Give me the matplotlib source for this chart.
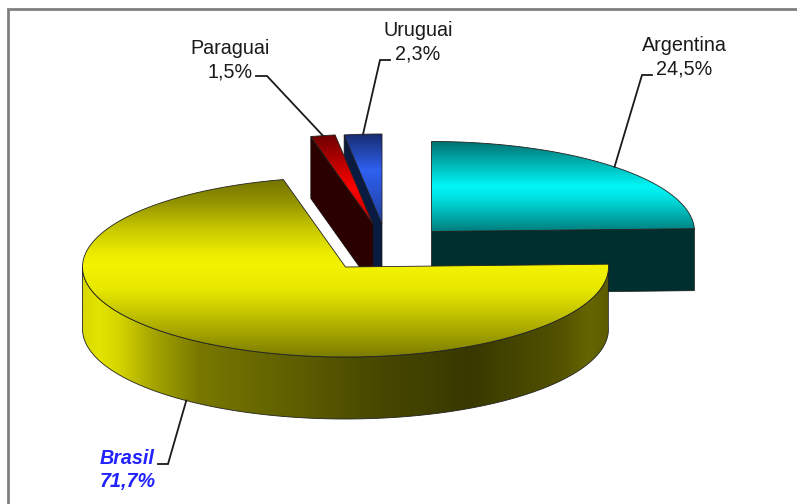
import numpy as np
import matplotlib
matplotlib.use("Agg")
import matplotlib.pyplot as plt
from matplotlib.colors import LinearSegmentedColormap, to_rgb
from matplotlib.patches import Polygon

# Share of each country, clockwise from twelve o'clock
countries = ["Argentina", "Brasil", "Paraguai", "Uruguai"]
shares = [24.5, 71.7, 1.5, 2.3]
share_labels = ["24,5%", "71,7%", "1,5%", "2,3%"]

# Projected pie geometry, in pixels
RX, RY, DEPTH = 263.0, 90.0, 62.0
CENTERS = {
    "Argentina": (431.5, 231.5),
    "Brasil": (345.5, 267),
    "Paraguai": (373, 224),
    "Uruguai": (382, 224),
}

plt.rcParams["font.family"] = ["Liberation Sans", "DejaVu Sans"]
fig = plt.figure(figsize=(7.97, 5.04), dpi=100, facecolor="white")
ax = fig.add_axes([0, 0, 1, 1])
ax.set_xlim(0, 797)
ax.set_ylim(504, 0)
ax.axis("off")

# Slice angles in degrees, running clockwise from the top
angles = {}
start = 90.0
for name, share in zip(countries, shares):
    sweep = share * 3.6
    angles[name] = (start, start - sweep)
    start -= sweep


def rim(center, t0, t1, dy=0.0, n=240):
    t = np.radians(np.linspace(t0, t1, n))
    return np.column_stack([center[0] + RX * np.cos(t),
                            center[1] + dy - RY * np.sin(t)])


def shaded(points, stops, axis, zorder):
    """Fill a polygon with a one-directional colour ramp, with a thin dark outline."""
    cmap = LinearSegmentedColormap.from_list("ramp", [(p, to_rgb(c)) for p, c in stops])
    outline = Polygon(points, closed=True, fc="none", ec="#222222", lw=0.6, zorder=zorder + 0.1)
    ax.add_patch(outline)
    x0, x1 = points[:, 0].min(), points[:, 0].max()
    y0, y1 = points[:, 1].min(), points[:, 1].max()
    ramp = np.linspace(0, 1, 512)
    ramp = ramp[None, :] if axis == "x" else ramp[:, None]
    image = ax.imshow(ramp, cmap=cmap, vmin=0, vmax=1, extent=(x0, x1, y1, y0),
                      aspect="auto", zorder=zorder, interpolation="bilinear")
    image.set_clip_path(Polygon(points, closed=True, transform=ax.transData))


def flat(points, color, zorder):
    ax.add_patch(Polygon(points, closed=True, fc=color, ec="#141414", lw=0.5, zorder=zorder))


def wedge(center, t0, t1):
    return np.vstack([center, rim(center, t0, t1)])


def cut_face(center, t):
    edge = rim(center, t, t, n=1)[0]
    cx, cy = center
    return np.array([edge, center, (cx, cy + DEPTH), (edge[0], edge[1] + DEPTH)])


# Argentina
c = CENTERS["Argentina"]
t0, t1 = angles["Argentina"]
flat(cut_face(c, t1), "#002f2f", 1)
shaded(wedge(c, t0, t1),
       [(0, "#006f6f"), (0.25, "#00b4b4"), (0.5, "#00f6f6"), (0.62, "#00e4e4"), (1, "#007f7f")], "y", 2)

# Uruguai
c = CENTERS["Uruguai"]
t0, t1 = angles["Uruguai"]
flat(cut_face(c, t0), "#0a1b42", 3)
shaded(wedge(c, t0, t1), [(0, "#182c70"), (0.4, "#2f60f0"), (1, "#1f3f9f")], "y", 4)

# Paraguai
c = CENTERS["Paraguai"]
t0, t1 = angles["Paraguai"]
flat(cut_face(c, t0), "#2b0000", 5)
shaded(wedge(c, t0, t1), [(0, "#6a0000"), (0.6, "#ff0000"), (1, "#b00000")], "y", 6)

# Brasil: side wall first, then the top
c = CENTERS["Brasil"]
t0, t1 = angles["Brasil"]
front = rim(c, -180, t0)
wall = np.vstack([front, front[::-1] + (0, DEPTH)])
shaded(wall,
       [(0, "#d8d800"), (0.03, "#e4e400"), (0.07, "#d4d400"), (0.135, "#a4a400"), (0.223, "#787800"),
        (0.547, "#4a4a00"), (0.737, "#383800"), (0.909, "#525200"), (0.966, "#666600"),
        (1, "#5c5c00")], "x", 7)
shaded(wedge(c, t0, t1),
       [(0, "#747400"), (0.13, "#949400"), (0.28, "#c8c800"), (0.42, "#ecec00"), (0.49, "#f2f200"),
        (0.62, "#e8e800"), (0.77, "#c0c000"), (1, "#7c7c00")], "y", 8)

# Leader lines start on the rim at each slice's middle angle
elbows = {
    "Argentina": [(642, 75), (652, 75)],
    "Brasil": [(168, 464), (158, 464)],
    "Paraguai": [(267, 76), (256, 76)],
    "Uruguai": [(380, 60), (390, 60)],
}
label_pos = {
    "Argentina": (684.5, 57),
    "Brasil": (127.5, 470),
    "Paraguai": (230, 60),
    "Uruguai": (418, 42),
}
for name, pct in zip(countries, share_labels):
    t0, t1 = angles[name]
    mid = (t0 + t1) / 2
    dy = DEPTH if name == "Brasil" else 0.0
    anchor = rim(CENTERS[name], mid, mid, dy=dy, n=1)[0]
    path = np.vstack([anchor, elbows[name]])
    ax.plot(path[:, 0], path[:, 1], color="#1a1a1a", lw=1.3, zorder=9,
            solid_joinstyle="miter")
    style = dict(color="#2222ff", style="italic", weight="bold") if name == "Brasil" else dict(color="#1a1a1a")
    ax.text(*label_pos[name], f"{name}\n{pct}", ha="center", va="center",
            fontsize=14.2, linespacing=1.33, zorder=10, **style)

# Frame along the top and left
ax.plot([8, 8, 797], [504, 9, 9], color="#808080", lw=2, solid_joinstyle="miter", zorder=11)

fig.savefig("out.png", dpi=100, facecolor="white")
